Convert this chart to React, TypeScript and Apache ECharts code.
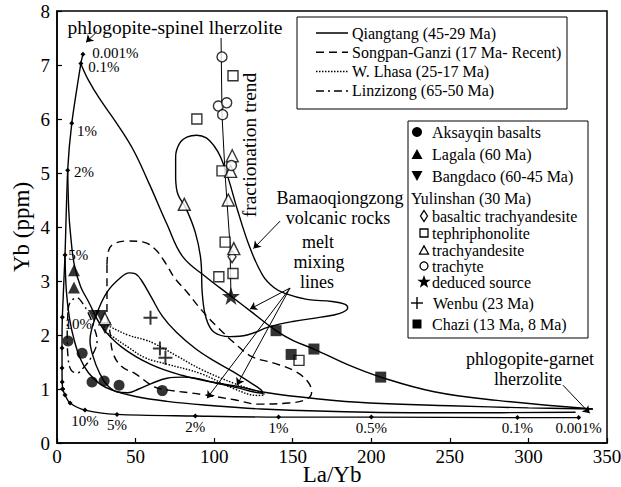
import React, { useEffect, useRef } from "react";
import * as echarts from "echarts";

const FONT = "Liberation Serif";

// ---- melting curves (La/Yb, Yb) ----
const spinelCurve: number[][] = [[16.5, 7.2], [15.2, 7.03], [9.4, 5.92], [6.8, 5.05], [5.1, 3.48], [3.4, 2.33], [3.2, 1.76], [3.2, 1.39], [3.3, 1.13], [3.6, 1.0]];
const garnetCurve: number[][] = [[3.6, 1.0], [5.1, 0.89], [8.3, 0.74], [17.8, 0.61], [38.2, 0.53], [88, 0.5], [141, 0.48], [200, 0.48], [293, 0.47], [332, 0.47]];
const spinelPctNames = ["0.001%", "0.1%", "1%", "2%", "5%", "10%"];
const spinelPctPts: number[][] = [[16.5, 7.2], [15.2, 7.03], [9.4, 5.92], [6.8, 5.05], [5.1, 3.48], [3.4, 2.33]];
const garnetPctNames = ["10%", "5%", "2%", "1%", "0.5%", "0.1%", "0.001%"];
const garnetPctPts: number[][] = [[17.8, 0.61], [38.2, 0.53], [88, 0.5], [141, 0.48], [200, 0.48], [293, 0.47], [332, 0.47]];
// label nudges (style only)
const spinelLabelNudge: number[][] = [[6, -1], [4, 4], [2, 8], [3, 2], [0, 0], [-1, 7]];

// ---- melt mixing lines ----
const mix1: number[][] = [[15.2, 7.02], [20, 6.72], [27, 6.38], [38, 5.92], [48.5, 5.43], [59, 4.78], [70, 4.05], [80, 3.45], [95, 3.07], [110.7, 2.72], [125, 2.4], [139.4, 2.08], [150, 1.9], [163.5, 1.74], [185, 1.45], [206, 1.22], [240, 0.95], [280, 0.79], [341, 0.63]];
const mix2: number[][] = [[6.8, 5.05], [7.5, 4.3], [8.5, 3.9], [11, 3.3], [15, 2.9], [20, 2.62], [28.6, 2.15], [41, 1.78], [60, 1.45], [80, 1.25], [100, 1.12], [114.5, 1.05], [134, 0.93], [165, 0.82], [199, 0.74], [250, 0.69], [300, 0.65], [341, 0.63]];
const mix3: number[][] = [[5.1, 3.48], [6, 2.8], [8, 2.3], [11, 1.9], [15, 1.55], [20, 1.3], [27, 1.1], [35, 0.98], [50, 0.86], [70, 0.77], [95, 0.7], [130, 0.63], [199, 0.57], [260, 0.56], [330, 0.57]];

// ---- fields ----
const qiangtangField: number[][] = [[22, 2.1], [26, 2.45], [32, 2.8], [40, 3.05], [46, 3.15], [50, 3.13], [54, 3.0], [60, 2.7], [67, 2.35], [76, 2.05], [88, 1.75], [100, 1.52], [112, 1.32], [124, 1.1], [130, 0.98], [131, 0.92], [126, 0.94], [115, 1.02], [100, 1.12], [88, 1.2], [80, 1.22], [70, 1.2], [60, 1.1], [52, 1.0], [45, 0.93], [38, 0.95], [32, 1.07], [27, 1.3], [23, 1.6], [21, 1.9], [22, 2.1]];
const bamaoField: number[][] = [[75.5, 4.9], [75.5, 5.3], [78, 5.55], [83, 5.67], [89, 5.7], [95, 5.65], [100, 5.5], [104, 5.3], [109, 4.9], [115, 4.3], [123, 3.6], [131, 3.1], [138, 2.88], [145, 2.77], [159, 2.66], [175, 2.62], [183, 2.57], [185, 2.5], [180, 2.4], [168, 2.33], [150, 2.25], [135, 2.15], [121, 2.0], [110, 1.97], [100, 2.05], [95, 2.3], [92.5, 2.75], [91.5, 3.4], [88, 3.9], [82, 4.35], [77, 4.6], [75.5, 4.9]];
const songpanField: number[][] = [[31.8, 3.3], [33, 3.58], [37, 3.7], [45, 3.74], [55, 3.72], [62, 3.6], [68, 3.38], [75, 3.05], [82, 2.82], [92, 2.46], [102, 2.15], [113, 1.85], [124, 1.6], [138, 1.48], [152, 1.32], [160, 1.12], [162, 0.93], [158, 0.8], [147, 0.74], [128, 0.72], [113, 0.8], [92, 0.9], [71, 0.98], [62, 1.04], [50, 1.28], [41, 1.42], [35.6, 1.67], [33.7, 2.05], [31.8, 2.4], [31.8, 3.0], [31.8, 3.3]];
const lhasaField: number[][] = [[30, 2.2], [34, 2.15], [45, 2.0], [56, 1.91], [62, 1.84], [77, 1.6], [92, 1.36], [113, 1.1], [128, 0.95], [132, 0.9], [128, 0.88], [113, 1.0], [92, 1.28], [70, 1.46], [56, 1.58], [45, 1.78], [35, 1.98], [30, 2.1], [30, 2.2]];
const linzizongField: number[][] = [[7, 2.45], [8.3, 2.6], [12.7, 2.69], [16, 2.6], [20, 2.4], [24, 2.1], [25.5, 1.9], [22, 1.6], [17, 1.4], [13, 1.3], [9, 1.35], [7, 1.6], [6.5, 2.0], [7, 2.45]];

// ---- fractionation trend ----
const fracTrend: number[][] = [[110.7, 2.72], [110.1, 3.67], [107, 4.96], [105, 6.07], [104.4, 7.5]];

// ---- samples ----
const aksayqin: number[][] = [[7, 1.89], [16, 1.66], [22.3, 1.13], [30, 1.15], [39.5, 1.07], [67, 0.97]];
const lagala: number[][] = [[10.8, 3.2], [10.8, 2.88]];
const bangdaco: number[][] = [[23.5, 2.35], [28, 2.35], [30.5, 2.13]];
const basalticTrachyandesite: number[][] = [[111.4, 3.45]];
const tephriphonolite: number[][] = [[112, 6.8], [89, 6.0], [105, 5.04], [107, 3.72], [103, 3.08], [112, 3.14], [154, 1.53]];
const trachyandesite: number[][] = [[111.5, 5.32], [110.5, 5.03], [81, 4.42], [109, 4.5], [112.5, 3.6], [30.5, 2.3]];
const trachyte: number[][] = [[105, 7.15], [102.7, 6.24], [108, 6.3], [105.4, 6.08], [111, 5.14]];
const deducedSource: number[][] = [[110.7, 2.72]];
const wenbu: number[][] = [[59.5, 2.32], [65.5, 1.75], [69, 1.58]];
const chazi: number[][] = [[139.4, 2.08], [149, 1.64], [163.5, 1.74], [206, 1.22]];

// ---- annotation arrows (from, to) ----
const arrows: number[][][] = [
  [[25.5, 7.62], [18.5, 7.42]],
  [[142, 4.11], [125, 3.6]],
  [[148.3, 2.87], [122.8, 2.48]],
  [[148.3, 2.87], [114.5, 1.07]],
  [[148.3, 2.87], [95.5, 0.83]],
  [[322, 1.07], [339, 0.55]],
];

const legendLines = [
  { name: "Qiangtang (45-29 Ma)", dash: null },
  { name: "Songpan-Ganzi (17 Ma- Recent)", dash: [8, 5] },
  { name: "W. Lhasa (25-17 Ma)", dash: [1.5, 1.5] },
  { name: "Linzizong (65-50 Ma)", dash: [8, 4, 2, 4] },
];

const STAR = "path://M50,0 L61.8,35.1 L98.1,35.1 L68.7,56.7 L79.4,91.9 L50,70 L20.6,91.9 L31.3,56.7 L1.9,35.1 L38.2,35.1 Z";
const PLUS = "path://M4.3,0H5.7V4.3H10V5.7H5.7V10H4.3V5.7H0V4.3H4.3Z";

function lineSeries(name: string, data: number[][], dash: any, smooth: number | boolean = 0.4) {
  return {
    name,
    type: "line",
    data,
    smooth,
    showSymbol: false,
    symbol: "none",
    z: 2,
    lineStyle: { color: "#000", width: 1.4, type: dash || "solid" },
  };
}

function scatter(name: string, data: number[][], symbol: string, size: any, filled: boolean, rotate = 0) {
  return {
    name,
    type: "scatter",
    data,
    symbol,
    symbolSize: size,
    symbolRotate: rotate,
    z: 5,
    itemStyle: filled
      ? { color: "#000" }
      : { color: "#fff", borderColor: "#000", borderWidth: 1.4 },
  };
}

function tri(cx: number, cy: number, s: number, down = false) {
  const h = s * 0.9;
  return down
    ? [[cx - s / 2, cy - h / 2], [cx + s / 2, cy - h / 2], [cx, cy + h / 2]]
    : [[cx - s / 2, cy + h / 2], [cx + s / 2, cy + h / 2], [cx, cy - h / 2]];
}

function starPts(cx: number, cy: number, r: number) {
  const pts: number[][] = [];
  for (let i = 0; i < 10; i++) {
    const rr = i % 2 === 0 ? r : r * 0.4;
    const a = -Math.PI / 2 + (i * Math.PI) / 5;
    pts.push([cx + rr * Math.cos(a), cy + rr * Math.sin(a)]);
  }
  return pts;
}

export default function App() {
  const ref = useRef<HTMLDivElement>(null);
  useEffect(() => {
    if (!ref.current) return;
    const chart = echarts.init(ref.current, null, { renderer: "svg" });
    const txt = (x: number, y: number, text: string, size: number, align = "center", rotation = 0) => ({
      type: "text",
      x,
      y,
      rotation,
      z: 100,
      style: { text, fontFamily: FONT, fontSize: size, fill: "#000", textAlign: align, textVerticalAlign: "middle" },
    });
    const graphics: any[] = [];
    // legend box 1
    graphics.push({ type: "rect", z: 90, shape: { x: 297, y: 17, width: 270, height: 92 }, style: { fill: "#fff", stroke: "#000", lineWidth: 1 } });
    legendLines.forEach((l, i) => {
      const y = 33 + i * 19.3;
      graphics.push({ type: "line", z: 100, shape: { x1: 316, y1: y, x2: 348, y2: y }, style: { stroke: "#000", lineWidth: 1.5, lineDash: l.dash || undefined } });
      graphics.push(txt(352, y, l.name, 16, "left"));
    });
    // legend box 2
    const rows = { aks: 132, lag: 154, ban: 176, yul: 198, bas: 216, tep: 233, tra: 250, trt: 266, ded: 282, wen: 303, cha: 324 };
    graphics.push({ type: "rect", z: 90, shape: { x: 408, y: 121, width: 180, height: 217 }, style: { fill: "#fff", stroke: "#000", lineWidth: 1 } });
    const blk = { fill: "#000" };
    const hol = { fill: "#fff", stroke: "#000", lineWidth: 1.3 };
    graphics.push({ type: "circle", z: 100, shape: { cx: 417, cy: rows.aks, r: 5 }, style: blk });
    graphics.push(txt(432, rows.aks, "Aksayqin basalts", 16, "left"));
    graphics.push({ type: "polygon", z: 100, shape: { points: tri(417, rows.lag, 11) }, style: blk });
    graphics.push(txt(432, rows.lag, "Lagala (60 Ma)", 16, "left"));
    graphics.push({ type: "polygon", z: 100, shape: { points: tri(417, rows.ban, 11, true) }, style: blk });
    graphics.push(txt(432, rows.ban, "Bangdaco (60-45 Ma)", 16, "left"));
    graphics.push(txt(411, rows.yul, "Yulinshan (30 Ma)", 16, "left"));
    const b = rows.bas;
    graphics.push({ type: "polygon", z: 100, shape: { points: [[424, b - 5.5], [427.5, b], [424, b + 5.5], [420.5, b]] }, style: hol });
    graphics.push(txt(432, rows.bas, "basaltic trachyandesite", 16, "left"));
    graphics.push({ type: "rect", z: 100, shape: { x: 420, y: rows.tep - 4, width: 8, height: 8 }, style: hol });
    graphics.push(txt(432, rows.tep, "tephriphonolite", 16, "left"));
    graphics.push({ type: "polygon", z: 100, shape: { points: tri(424, rows.tra, 9) }, style: hol });
    graphics.push(txt(432, rows.tra, "trachyandesite", 16, "left"));
    graphics.push({ type: "circle", z: 100, shape: { cx: 424, cy: rows.trt, r: 4 }, style: hol });
    graphics.push(txt(432, rows.trt, "trachyte", 16, "left"));
    graphics.push({ type: "polygon", z: 100, shape: { points: starPts(424, rows.ded, 7) }, style: blk });
    graphics.push(txt(432, rows.ded, "deduced source", 16, "left"));
    graphics.push({ type: "rect", z: 100, shape: { x: 411, y: rows.wen - 0.7, width: 12, height: 1.4 }, style: blk });
    graphics.push({ type: "rect", z: 100, shape: { x: 416.3, y: rows.wen - 6, width: 1.4, height: 12 }, style: blk });
    graphics.push(txt(433, rows.wen, "Wenbu (23 Ma)", 16, "left"));
    graphics.push({ type: "rect", z: 100, shape: { x: 412.5, y: rows.cha - 4.5, width: 9, height: 9 }, style: blk });
    graphics.push(txt(432, rows.cha, "Chazi (13 Ma, 8 Ma)", 16, "left"));
    // annotation texts
    graphics.push(txt(175, 27, "phlogopite-spinel lherzolite", 19.5));
    graphics.push(txt(249, 145, "fractionation trend", 19.5, "center", Math.PI / 2));
    graphics.push(txt(340, 198, "Bamaoqiongzong", 18));
    graphics.push(txt(338, 218, "volcanic rocks", 18));
    graphics.push(txt(318, 242, "melt", 18));
    graphics.push(txt(319, 262, "mixing", 18));
    graphics.push(txt(317, 282, "lines", 18));
    graphics.push(txt(530, 359, "phlogopite-garnet", 18));
    graphics.push(txt(528, 379, "lherzolite", 18));

    const pctLabel = (names: string[], pts: number[][], pos: string, nudge: number[][] | null) => ({
      type: "scatter",
      symbol: "circle",
      symbolSize: 0.5,
      z: 6,
      silent: true,
      itemStyle: { color: "#000", opacity: 1 },
      data: pts.map((p, i) => ({
        value: p,
        name: names[i],
        label: nudge ? { offset: nudge[i] } : undefined,
      })),
      label: {
        show: true, formatter: "{b}", position: pos, distance: 3,
        fontFamily: FONT, fontSize: 15, color: "#000", opacity: 1,
        textBorderWidth: 0, textBorderColor: "transparent",
      },
    });

    const option: any = {
      animation: false,
      backgroundColor: "#fff",
      grid: { left: 57, right: 14, top: 11, bottom: 44, show: true, borderColor: "#000", borderWidth: 1.5, outerBoundsMode: "none" },
      xAxis: {
        type: "value", min: 0, max: 350, interval: 50,
        name: "La/Yb", nameLocation: "middle", nameGap: 20, nameMoveOverlap: false,
        nameTextStyle: { fontFamily: FONT, fontSize: 23, color: "#000" },
        axisLine: { lineStyle: { color: "#000", width: 1.5 } },
        axisTick: { inside: true, length: 5, lineStyle: { color: "#000", width: 1.2 } },
        axisLabel: { fontFamily: FONT, fontSize: 19, color: "#000", margin: 4 },
        splitLine: { show: false },
      },
      yAxis: {
        type: "value", min: 0, max: 8, interval: 1,
        name: "Yb (ppm)", nameLocation: "middle", nameGap: 24, nameMoveOverlap: false,
        nameTextStyle: { fontFamily: FONT, fontSize: 23, color: "#000" },
        axisLine: { lineStyle: { color: "#000", width: 1.5 } },
        axisTick: { inside: true, length: 5, lineStyle: { color: "#000", width: 1.2 } },
        axisLabel: { fontFamily: FONT, fontSize: 19, color: "#000", margin: 7 },
        splitLine: { show: false },
      },
      graphic: graphics,
      series: [
        {
          name: "phlogopite-spinel lherzolite", type: "line", data: spinelCurve, smooth: 0.2,
          symbol: "diamond", symbolSize: 5, showSymbol: true, z: 3,
          itemStyle: { color: "#000" }, lineStyle: { color: "#000", width: 1.4 },
        },
        {
          name: "phlogopite-garnet lherzolite", type: "line", data: garnetCurve, smooth: 0.3,
          symbol: "diamond", symbolSize: 5, showSymbol: true, z: 3,
          itemStyle: { color: "#000" }, lineStyle: { color: "#000", width: 1.4 },
        },
        pctLabel(spinelPctNames, spinelPctPts, "right", spinelLabelNudge),
        pctLabel(garnetPctNames, garnetPctPts, "bottom", null),
        lineSeries("mix1", mix1, null),
        lineSeries("mix2", mix2, null),
        lineSeries("mix3", mix3, null),
        lineSeries("Qiangtang", qiangtangField, null),
        lineSeries("Bamaoqiongzong", bamaoField, null),
        lineSeries("Songpan-Ganzi", songpanField, [8, 5]),
        lineSeries("W. Lhasa", lhasaField, [1.5, 1.5]),
        lineSeries("Linzizong", linzizongField, [8, 4, 2, 4]),
        {
          name: "fractionation", type: "lines", coordinateSystem: "cartesian2d", polyline: true, z: 4,
          symbol: ["none", "arrow"], symbolSize: 7,
          lineStyle: { color: "#000", width: 1, opacity: 1 },
          data: [{ coords: fracTrend }],
        },
        {
          name: "arrows", type: "lines", coordinateSystem: "cartesian2d", z: 4,
          symbol: ["none", "arrow"], symbolSize: 7,
          lineStyle: { color: "#000", width: 1, opacity: 1 },
          data: arrows.map((a) => ({ coords: a })),
        },
        scatter("Aksayqin basalts", aksayqin, "circle", 11, true),
        scatter("Lagala (60 Ma)", lagala, "triangle", 12, true),
        scatter("Bangdaco (60-45 Ma)", bangdaco, "triangle", 12, true, 180),
        scatter("basaltic trachyandesite", basalticTrachyandesite, "diamond", [8, 12], false),
        scatter("tephriphonolite", tephriphonolite, "rect", 10, false),
        scatter("trachyandesite", trachyandesite, "triangle", 12, false),
        scatter("trachyte", trachyte, "circle", 10, false),
        scatter("deduced source", deducedSource, STAR, 18, true),
        scatter("Wenbu (23 Ma)", wenbu, PLUS, 14, true),
        scatter("Chazi (13 Ma, 8 Ma)", chazi, "rect", 11, true),
      ],
    };
    chart.setOption(option);
    return () => chart.dispose();
  }, []);
  return <div ref={ref} style={{ position: "fixed", left: 0, top: 0, width: 621, height: 487 }} />;
}
